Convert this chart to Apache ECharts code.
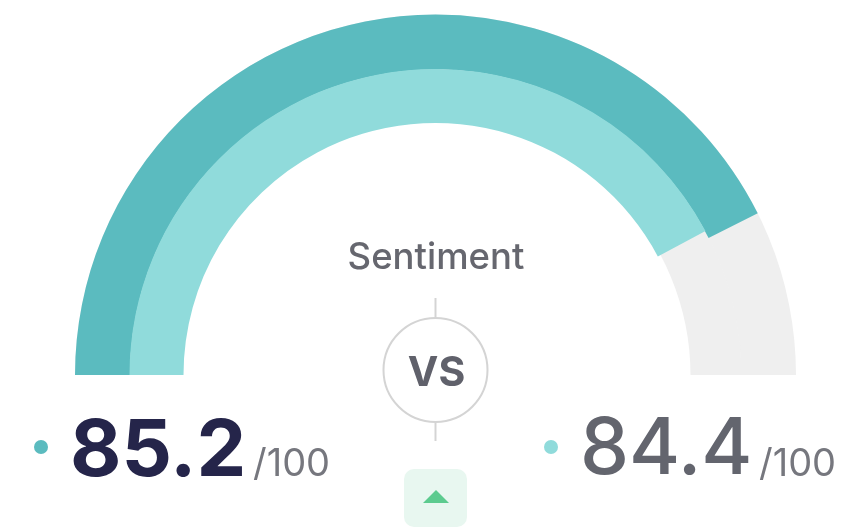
<!DOCTYPE html>
<html>
<head>
<meta charset="utf-8">
<style>
  html, body { margin: 0; padding: 0; background: #fff; }
  #chart { width: 842px; height: 530px; }
</style>
<script src="https://cdn.jsdelivr.net/npm/echarts@6/dist/echarts.min.js"></script>
</head>
<body>
<div id="chart"></div>
<script>
var scoreA = 85.2
var scoreB = 84.4
var scoreMax = 100
var metricName = 'Sentiment'
var vsLabel = 'VS'

var colorA = '#5bbbbf'
var colorB = '#90dbdb'
var trackColor = '#efefef'
var font = 'Inter'

var chart = echarts.init(document.getElementById('chart'))

// the grey track of the inner ring is a bit thinner than its coloured part
function ring(value, color, radius, width, trackWidth) {
  return {
    type: 'gauge',
    center: [435.5, 375],
    radius: radius,
    startAngle: 180,
    endAngle: 0,
    min: 0,
    max: scoreMax,
    silent: true,
    animation: false,
    pointer: { show: false },
    axisTick: { show: false },
    splitLine: { show: false },
    axisLabel: { show: false },
    title: { show: false },
    detail: { show: false },
    axisLine: { roundCap: false, lineStyle: { width: trackWidth, color: [[1, trackColor]] } },
    progress: { show: true, overlap: true, roundCap: false, width: width, itemStyle: { color: color } },
    data: [{ value: value }]
  }
}

function label(x, y, str, size, weight, color, align) {
  return {
    type: 'text',
    x: x,
    y: y,
    style: {
      text: str,
      fontFamily: font,
      fontSize: size,
      fontWeight: weight,
      fill: color,
      align: align || 'left',
      verticalAlign: 'middle'
    }
  }
}

chart.setOption({
  backgroundColor: '#fff',
  animation: false,
  series: [
    ring(scoreA, colorA, 360.5, 55, 55),
    ring(scoreB, colorB, 306, 54, 51)
  ],
  graphic: [
    label(436, 258, metricName, 36.5, 500, '#66676f', 'center'),
    { type: 'line', shape: { x1: 435.5, y1: 298, x2: 435.5, y2: 318 }, style: { stroke: '#d4d4d4', lineWidth: 2 } },
    { type: 'line', shape: { x1: 435.5, y1: 422, x2: 435.5, y2: 441 }, style: { stroke: '#d4d4d4', lineWidth: 2 } },
    { type: 'circle', shape: { cx: 435.5, cy: 370, r: 52 }, style: { fill: '#fff', stroke: '#d4d4d4', lineWidth: 2 } },
    label(436.5, 374, vsLabel, 41, 700, '#60616b', 'center'),

    { type: 'circle', shape: { cx: 41, cy: 447, r: 7 }, style: { fill: colorA } },
    label(70, 452, String(scoreA), 79, 700, '#25254a'),
    label(253, 465, '/' + scoreMax, 38, 400, '#76777e'),

    { type: 'circle', shape: { cx: 551, cy: 447, r: 7 }, style: { fill: colorB } },
    label(580, 451, String(scoreB), 78, 500, '#63656e'),
    label(759, 465, '/' + scoreMax, 38, 400, '#76777e'),

    { type: 'rect', shape: { x: 404, y: 469, width: 63, height: 58, r: 10 }, style: { fill: '#e8f7f0' } },
    { type: 'polygon', shape: { points: [[436, 490], [449, 503], [423, 503]] }, style: { fill: '#5ccb8f' } }
  ]
})
</script>
</body>
</html>
